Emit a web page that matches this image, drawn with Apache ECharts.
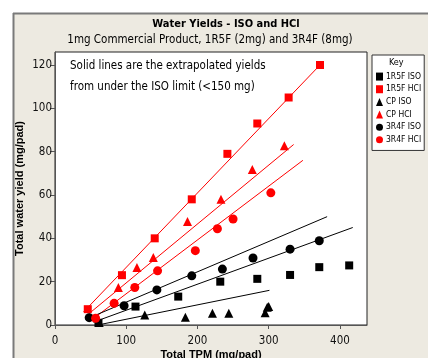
<!DOCTYPE html>
<html>
<head>
    <title>Water Yields - ISO and HCl</title>
    <script src="https://cdn.jsdelivr.net/npm/echarts@6/dist/echarts.min.js"></script>
    <style>body{margin:0;background:#fff}</style>
</head>
<body>
<div id="main" style="width:428px;height:358px"></div>
<script type="text/javascript">
    // measured points [TPM, water yield]
    var iso1R5F = [[61, 1], [113, 8.5], [173, 13.1], [232, 20], [284, 21.3], [330, 23.1], [371, 26.7], [413, 27.5]];
    var hci1R5F = [[46, 7.3], [94, 23], [140, 40], [192, 58], [242, 79], [284, 93], [328, 105], [372, 120]];
    var isoCP = [[62, 1.1], [126, 4.6], [183, 3.6], [221, 5.4], [244, 5.4], [295, 5.7], [298, 8.2], [300, 8.5]];
    var hciCP = [[89, 17.3], [115, 26.5], [138, 31.2], [186, 47.8], [233, 58], [277, 71.8], [322, 82.7]];
    var iso3R4F = [[48, 3.4], [97, 8.9], [143, 16.2], [192, 22.7], [235, 25.8], [278, 30.9], [330, 35], [371, 38.9]];
    var hci3R4F = [[57, 3.1], [83, 10], [112, 17.3], [144, 25], [197, 34.3], [228, 44.4], [250, 48.9], [303, 61]];

    // extrapolated fit lines (start, end)
    var fit1R5FHCI = [[40, 6], [372, 120]];
    var fitCPHCI = [[45, 4.5], [335, 83.3]];
    var fit3R4FHCI = [[52, 2.5], [348, 76]];
    var fit3R4FISO = [[46, 3], [382, 50]];
    var fit1R5FISO = [[54, 1.3], [418, 45]];
    var fitCPISO = [[60, 0], [301, 16]];

    var keyNames = ['1R5F ISO', '1R5F HCI', 'CP ISO', 'CP HCI', '3R4F ISO', '3R4F HCI'];

    var font = '"Liberation Sans Narrow", "DejaVu Sans Condensed", sans-serif';
    var myChart = echarts.init(document.getElementById('main'));

    function pts(name, data, symbol, color, size) {
        return {
            name: name, type: 'scatter', data: data, symbol: symbol,
            symbolSize: size, itemStyle: {color: color, opacity: 1}, z: 3
        };
    }
    function fit(data, color) {
        return {
            type: 'line', data: data, symbol: 'none', silent: true,
            lineStyle: {color: color, width: 1}, z: 2
        };
    }

    option = {
        animation: false,
        graphic: [
            {type: 'rect', shape: {x: 13, y: 13, width: 415, height: 345}, style: {fill: '#EDEAE1'}, z: -10},
            {type: 'line', shape: {x1: 13.5, y1: 13, x2: 13.5, y2: 358}, style: {stroke: '#7a7a7a', lineWidth: 2}, z: -9},
            {type: 'line', shape: {x1: 13, y1: 13.5, x2: 428, y2: 13.5}, style: {stroke: '#7a7a7a', lineWidth: 2}, z: -9},
            {type: 'text', x: 226, y: 24, style: {text: 'Water Yields - ISO and HCl', font: 'bold 11px ' + font, fill: '#000', align: 'center', verticalAlign: 'middle'}},
            {type: 'text', x: 210, y: 40, style: {text: '1mg Commercial Product, 1R5F (2mg) and 3R4F (8mg)', font: '11.5px ' + font, fill: '#000', align: 'center', verticalAlign: 'middle'}},
            {type: 'text', x: 70, y: 66, style: {text: 'Solid lines are the extrapolated yields', font: '11.5px ' + font, fill: '#000', verticalAlign: 'middle'}, z: 5},
            {type: 'text', x: 70, y: 87, style: {text: 'from under the ISO limit (<150 mg)', font: '11.5px ' + font, fill: '#000', verticalAlign: 'middle'}, z: 5},
            {type: 'text', x: 389, y: 63, style: {text: 'Key', font: '9px ' + font, fill: '#000', verticalAlign: 'middle'}, z: 10}
        ],
        grid: {
            left: 55, top: 52, width: 312, height: 273,
            outerBoundsMode: 'none',
            show: true, backgroundColor: '#fff', borderColor: '#222', borderWidth: 1
        },
        legend: {
            data: keyNames,
            orient: 'vertical', left: 372, top: 55,
            padding: [14, 3, 3, 4],
            itemGap: -2.5, itemWidth: 7, itemHeight: 8,
            backgroundColor: '#fff', borderColor: '#333', borderWidth: 1,
            textStyle: {fontSize: 8.5, lineHeight: 10, fontFamily: font, color: '#000', padding: [0, 0, 0, -2]}
        },
        xAxis: {
            type: 'value', min: 0, max: 438, interval: 100,
            name: 'Total TPM (mg/pad)', nameLocation: 'middle', nameGap: 20,
            nameMoveOverlap: false,
            nameTextStyle: {fontWeight: 'bold', fontSize: 11, fontFamily: 'Liberation Sans, Arial, sans-serif', color: '#000'},
            axisLine: {lineStyle: {color: '#555'}},
            axisTick: {length: 4, lineStyle: {color: '#555'}},
            axisLabel: {fontSize: 11.5, fontFamily: font, color: '#111', margin: 6, showMaxLabel: false},
            splitLine: {show: false}
        },
        yAxis: {
            type: 'value', min: 0, max: 126, interval: 20,
            name: 'Total water yield (mg/pad)', nameLocation: 'middle', nameGap: 26,
            nameMoveOverlap: false,
            nameTextStyle: {fontWeight: 'bold', fontSize: 11, fontFamily: 'Liberation Sans, Arial, sans-serif', color: '#000'},
            axisLine: {lineStyle: {color: '#555'}},
            axisTick: {length: 5, lineStyle: {color: '#555'}},
            axisLabel: {fontSize: 11.5, fontFamily: font, color: '#111', margin: 3, showMaxLabel: false},
            splitLine: {show: false}
        },
        series: [
            fit(fit1R5FHCI, '#ff0000'),
            fit(fitCPHCI, '#ff0000'),
            fit(fit3R4FHCI, '#ff0000'),
            fit(fit3R4FISO, '#000'),
            fit(fit1R5FISO, '#000'),
            fit(fitCPISO, '#000'),
            pts(keyNames[0], iso1R5F, 'rect', '#000', 8),
            pts(keyNames[1], hci1R5F, 'rect', '#ff0000', 8),
            pts(keyNames[2], isoCP, 'triangle', '#000', 9),
            pts(keyNames[3], hciCP, 'triangle', '#ff0000', 9),
            pts(keyNames[4], iso3R4F, 'circle', '#000', 9),
            pts(keyNames[5], hci3R4F, 'circle', '#ff0000', 9)
        ]
    };
    myChart.setOption(option);
</script>
</body>
</html>
